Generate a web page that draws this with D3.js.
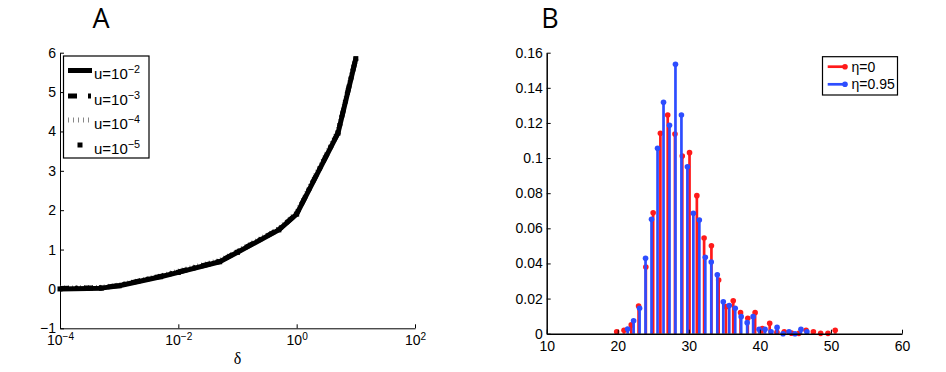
<!DOCTYPE html>
<html><head><meta charset="utf-8">
<script src="https://cdn.jsdelivr.net/npm/d3@7/dist/d3.min.js"></script>
<style>
body{margin:0;background:#fff;}
svg text{font-family:"Liberation Sans",Arial,Helvetica,sans-serif;fill:#000;}
</style></head><body>
<svg id="chart" width="946" height="372"></svg>
<script>
// ---------- Panel A data ----------
const deltaValues = [1e-4, 5e-4, 1e-3, 5e-3, 1e-2, 5e-2, 1e-1, 5e-1, 1, 5, 10];
const curveU2 = [0.00, 0.02, 0.08, 0.31, 0.42, 0.69, 0.93, 1.50, 1.90, 3.96, 5.85];
const curveU3 = [0.01, 0.03, 0.09, 0.32, 0.43, 0.70, 0.94, 1.51, 1.91, 3.97, 5.86];
const curveU4 = [0.02, 0.04, 0.10, 0.33, 0.45, 0.72, 0.96, 1.53, 1.94, 4.01, 5.90];
const curveU5 = [0.00, 0.02, 0.08, 0.31, 0.42, 0.69, 0.93, 1.50, 1.90, 3.96, 5.85];
const uExponents = ["−2", "−3", "−4", "−5"];
const yTicksA = [-1, 0, 1, 2, 3, 4, 5, 6];
const xTicksA = [1e-4, 1e-2, 1, 1e2];
const xTickExpA = ["−4", "−2", "0", "2"];

// ---------- Panel B data ----------
const binsEta0 = [19.85, 20.88, 21.90, 22.93, 23.95, 24.98, 26.00, 27.03, 28.05, 29.08, 30.10,
  31.13, 32.15, 33.18, 34.20, 35.23, 36.25, 37.28, 38.30, 39.33, 40.35, 41.38, 42.40, 43.43,
  44.45, 45.48, 46.50, 47.53, 48.55, 49.58, 50.60];
const valsEta0 = [0.0011, 0.0020, 0.0050, 0.0158, 0.0380, 0.0689, 0.1141, 0.1245, 0.1137, 0.1012,
  0.1031, 0.0786, 0.0545, 0.0501, 0.0306, 0.0154, 0.0188, 0.0120, 0.0088, 0.0120, 0.0030, 0.0059,
  0.0008, 0.0011, 0.0003, 0.0002, 0.0020, 0.0011, 0.0002, 0.0002, 0.0020];
const binsEta95 = [21.39, 22.23, 23.07, 23.91, 24.75, 25.60, 26.44, 27.28, 28.12, 28.96, 29.80,
  30.64, 31.48, 32.32, 33.16, 34.01, 34.85, 35.69, 36.53, 37.37, 38.21, 39.05, 39.89, 40.73,
  41.57, 42.42, 43.26, 44.10, 44.94, 45.78, 46.62];
const valsEta95 = [0.0027, 0.0074, 0.0145, 0.0429, 0.0651, 0.1056, 0.1318, 0.1187, 0.1534, 0.1245,
  0.0951, 0.0686, 0.0647, 0.0435, 0.0408, 0.0335, 0.0182, 0.0160, 0.0145, 0.0097, 0.0063, 0.0097,
  0.0025, 0.0025, 0.0011, 0.0036, 0.0000, 0.0011, 0.0000, 0.0025, 0.0011];
const seriesNamesB = ["η=0", "η=0.95"];
const xTicksB = [10, 20, 30, 40, 50, 60];
const yTicksB = [0, 0.02, 0.04, 0.06, 0.08, 0.1, 0.12, 0.14, 0.16];
const yTickLabelsB = ["0", "0.02", "0.04", "0.06", "0.08", "0.1", "0.12", "0.14", "0.16"];

const RED = "#ff1a1a", BLUE = "#2d4dff";
const TICK_FS = 14;
const svg = d3.select("#chart");

// ================= Panel A =================
const xA = d3.scaleLog().domain([1e-4, 1e2]).range([60, 415]);
const yA = d3.scaleLinear().domain([-1, 6]).range([328.3, 52.7]);
const gA = svg.append("g");

const axA_x = gA.append("g").attr("transform", `translate(0,${yA(-1)})`)
  .call(d3.axisBottom(xA).tickValues(xTicksA).tickSizeInner(-4).tickSizeOuter(0).tickPadding(7));
axA_x.selectAll(".tick text").each(function(d, i) {
  const t = d3.select(this);
  t.text("");
  t.append("tspan").text("10");
  t.append("tspan").attr("dy", "-0.5em").attr("font-size", "0.72em").text(xTickExpA[i]);
});
const axA_y = gA.append("g").attr("transform", `translate(${xA(1e-4)},0)`)
  .call(d3.axisLeft(yA).tickValues(yTicksA).tickSizeInner(-4).tickSizeOuter(0).tickPadding(4)
    .tickFormat(d3.format("d")));
[axA_x, axA_y].forEach(a => {
  a.selectAll("text").attr("font-size", TICK_FS).attr("font-family", "Liberation Sans, Arial, sans-serif");
  a.select(".domain").attr("stroke", "#000").attr("stroke-width", 1);
  a.selectAll(".tick line").attr("stroke", "#000");
});

const lineA = vals => d3.line().x((d, i) => xA(deltaValues[i])).y(d => yA(d))(vals);
gA.append("path").attr("d", lineA(curveU4)).attr("fill", "none").attr("stroke", "#7a7a7a")
  .attr("stroke-width", 5).attr("stroke-dasharray", "1,3");
gA.append("path").attr("d", lineA(curveU2)).attr("fill", "none").attr("stroke", "#000")
  .attr("stroke-width", 5).attr("stroke-linejoin", "round");
gA.append("path").attr("d", lineA(curveU3)).attr("fill", "none").attr("stroke", "#000")
  .attr("stroke-width", 5).attr("stroke-dasharray", "9,6,3,6");
gA.selectAll("rect.m5").data(curveU5).join("rect").attr("class", "m5")
  .attr("x", (d, i) => xA(deltaValues[i]) - 2.5).attr("y", d => yA(d) - 2.5)
  .attr("width", 5).attr("height", 5).attr("fill", "#000");

// legend A
const legA = gA.append("g");
legA.append("rect").attr("x", 63.5).attr("y", 56).attr("width", 85.5).attr("height", 102)
  .attr("fill", "#fff").attr("stroke", "#000").attr("stroke-width", 1.2);
const rowsA = [70.5, 96, 120, 145];
rowsA.forEach((ry, i) => {
  if (i === 0) legA.append("line").attr("x1", 68).attr("x2", 92).attr("y1", ry).attr("y2", ry)
    .attr("stroke", "#000").attr("stroke-width", 5);
  if (i === 1) legA.append("line").attr("x1", 68).attr("x2", 92).attr("y1", ry).attr("y2", ry)
    .attr("stroke", "#000").attr("stroke-width", 5).attr("stroke-dasharray", "9,11,3,6");
  if (i === 2) legA.append("line").attr("x1", 68).attr("x2", 92).attr("y1", ry).attr("y2", ry)
    .attr("stroke", "#888").attr("stroke-width", 5).attr("stroke-dasharray", "1,4");
  if (i === 3) legA.append("rect").attr("x", 77.5).attr("y", ry - 2.5).attr("width", 5).attr("height", 5)
    .attr("fill", "#000");
  const t = legA.append("text").attr("x", 94).attr("y", ry + 8.5).attr("font-size", 15);
  t.append("tspan").text("u=10");
  t.append("tspan").attr("dy", "-0.55em").attr("font-size", "0.72em").text(uExponents[i]);
});

gA.append("text").attr("x", 101).attr("y", 28).attr("text-anchor", "middle")
  .attr("font-size", 27).style("font-family", "'Open Sans', sans-serif").text("A");
gA.append("text").attr("x", 237.5).attr("y", 364).attr("text-anchor", "middle")
  .attr("font-size", 16).style("font-family", "'Liberation Serif', 'DejaVu Serif', serif").text("δ");

// ================= Panel B =================
const xB = d3.scaleLinear().domain([10, 60]).range([546.7, 902]);
const yB = d3.scaleLinear().domain([0, 0.16]).range([333.7, 52.7]);
const gB = svg.append("g");

const drawStems = (bins, vals, color) => {
  const g = gB.append("g");
  g.selectAll("line").data(vals).join("line")
    .attr("x1", (d, i) => xB(bins[i])).attr("x2", (d, i) => xB(bins[i]))
    .attr("y1", yB(0)).attr("y2", d => yB(d))
    .attr("stroke", color).attr("stroke-width", 2.7);
  g.selectAll("circle").data(vals).join("circle")
    .attr("cx", (d, i) => xB(bins[i])).attr("cy", d => yB(d)).attr("r", 2.8).attr("fill", color);
};
drawStems(binsEta0, valsEta0, RED);
drawStems(binsEta95, valsEta95, BLUE);

const axB_x = gB.append("g").attr("transform", `translate(0,${yB(0)})`)
  .call(d3.axisBottom(xB).tickValues(xTicksB).tickSizeInner(-4).tickSizeOuter(0).tickPadding(7));
const axB_y = gB.append("g").attr("transform", `translate(${xB(10)},0)`)
  .call(d3.axisLeft(yB).tickValues(yTicksB).tickSizeInner(-4).tickSizeOuter(0).tickPadding(4)
    .tickFormat((d, i) => yTickLabelsB[i]));
[axB_x, axB_y].forEach(a => {
  a.selectAll("text").attr("font-size", TICK_FS).attr("font-family", "Liberation Sans, Arial, sans-serif");
  a.select(".domain").attr("stroke", "#000").attr("stroke-width", 1.5);
  a.selectAll(".tick line").attr("stroke", "#000");
});

// legend B
const legB = gB.append("g");
legB.append("rect").attr("x", 822.5).attr("y", 56.7).attr("width", 75).attr("height", 38.3)
  .attr("fill", "#fff").attr("stroke", "#000").attr("stroke-width", 1.2);
[[66.7, RED], [84.3, BLUE]].forEach(([ry, c], i) => {
  legB.append("line").attr("x1", 827.7).attr("x2", 845).attr("y1", ry).attr("y2", ry)
    .attr("stroke", c).attr("stroke-width", 2.7);
  legB.append("circle").attr("cx", 845).attr("cy", ry).attr("r", 2.8).attr("fill", c);
  legB.append("text").attr("x", 851.5).attr("y", ry + 5).attr("font-size", 14).text(seriesNamesB[i]);
});

gB.append("text").attr("x", 550).attr("y", 28).attr("text-anchor", "middle")
  .attr("font-size", 27).style("font-family", "'Open Sans', sans-serif").text("B");
</script>
</body></html>
